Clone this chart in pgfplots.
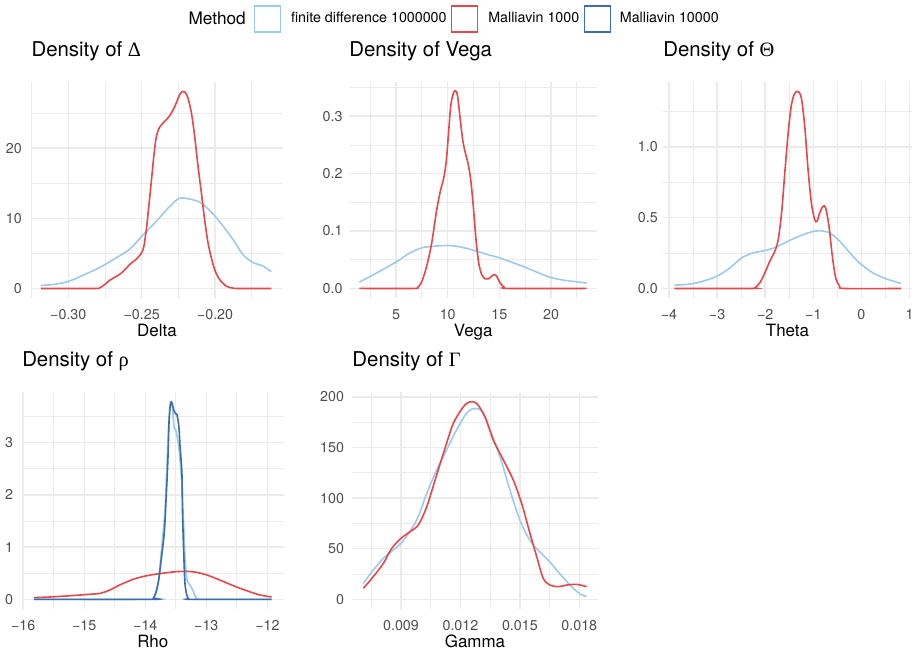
\documentclass[border=0pt]{standalone}
\usepackage{pgfplots}
\pgfplotsset{compat=1.18}
\usepackage{fontspec}
\setmainfont{TeX Gyre Heros}
\newfontfamily\greekfont{Liberation Serif}

\definecolor{fdblue}{HTML}{9CCAEA}
\definecolor{mred}{HTML}{E5474B}
\definecolor{mblue}{HTML}{3C6DAA}
\definecolor{gridgray}{HTML}{EBEBEB}
\definecolor{tickgray}{HTML}{4D4D4D}

\newcommand{\tickfont}{\fontsize{10.7}{12}\selectfont}
\newcommand{\labfont}{\fontsize{12.7}{14}\selectfont}
\newcommand{\titlefont}{\fontsize{15.3}{17}\selectfont}

\pgfplotsset{
  gg/.style={
    scale only axis,
    anchor=south west,
    scaled ticks=false,
    axis line style={draw=none},
    major tick length=0pt, minor tick length=0pt,
    tick style={draw=none},
    grid=both,
    major grid style={color=gridgray, line width=1.1pt},
    minor grid style={color=gridgray, line width=0.55pt},
    tick label style={font=\tickfont, text=tickgray, inner sep=0pt},
    xticklabel style={anchor=north, yshift=-8.25pt},
    yticklabel style={anchor=east},
    xlabel style={at={(axis description cs:0.5,0)}, anchor=base, yshift=-29pt, font=\labfont, inner sep=0pt},
    title style={at={(axis description cs:0,1)}, anchor=base west, yshift=13.2pt, font=\titlefont, inner sep=0pt},
  },
  fd/.style={color=fdblue, line width=1.2pt, smooth, tension=0.5},
  m1k/.style={color=mred, line width=1.2pt, smooth, tension=0.5},
  m10k/.style={color=mblue, line width=1.2pt, smooth, tension=0.5},
}

\begin{document}
\begin{tikzpicture}
\useasboundingbox (0pt,0pt) rectangle (687pt,-488.25pt);

% Delta
\begin{axis}[gg,
  at={(23.48pt,-223.73pt)}, width=188.55pt, height=162.45pt,
  xmin=-0.3252, xmax=-0.1539, ymin=-1.4, ymax=29.45,
  xtick={-0.30,-0.25,-0.20}, xticklabels={−0.30,−0.25,−0.20},
  minor xtick={-0.325,-0.275,-0.225,-0.175},
  ytick={0,10,20}, yticklabels={0,10,20},
  minor ytick={5,15,25},
  yticklabel style={xshift=-7pt},
  xlabel={Delta},
  title={Density of {\greekfont Δ}},
  legend columns=4,
  legend image code/.code={\draw[#1, line width=1.1pt, fill=white] (0pt,-9.75pt) rectangle (19.5pt,9.75pt);},
  legend style={at={(axis description cs:0.6257,1.2906)}, anchor=west,
    draw=none, fill=none, inner sep=0pt, outer sep=0pt,
    row sep=0pt, column sep=0pt, font=\tickfont,
    nodes={inner sep=0pt, text=black},
    /tikz/column 1/.style={column sep=0pt},
    /tikz/column 2/.style={column sep=6.2pt},
    /tikz/column 3/.style={column sep=7.2pt},
    /tikz/column 4/.style={column sep=3.2pt},
    /tikz/column 5/.style={column sep=7.5pt},
    /tikz/column 6/.style={column sep=3.2pt},
    /tikz/column 7/.style={column sep=6.7pt}},
]
\addlegendimage{empty legend}
\addlegendentry[font=\fontsize{12.9}{14}\selectfont]{Method}
\addplot[fd] coordinates {
(-0.3186,0.43) (-0.3102,0.57) (-0.3000,1.0) (-0.2898,1.9) (-0.2785,3.0)
(-0.2671,4.4) (-0.2581,5.6) (-0.2501,7.4) (-0.2399,9.6) (-0.2331,11.2)
(-0.2263,12.6) (-0.2222,12.9) (-0.2105,12.3) (-0.2000,10.3) (-0.1878,7.0)
(-0.1810,4.8) (-0.1742,3.7) (-0.1674,3.2) (-0.1617,2.4)};
\addlegendentry{finite difference 1000000}
\addplot[m1k] coordinates {
(-0.3186,0) (-0.2830,0) (-0.2785,0.1) (-0.2751,0.57) (-0.2717,1.18)
(-0.2671,1.75) (-0.2637,2.23) (-0.2603,2.94) (-0.2569,3.65) (-0.2535,4.2)
(-0.2501,5.07) (-0.2485,6.0) (-0.2467,8.6) (-0.2449,12.2) (-0.2433,15.5)
(-0.2415,19.3) (-0.2399,21.7) (-0.2377,23.0) (-0.2343,23.8) (-0.2309,24.6)
(-0.2275,25.9) (-0.2241,27.6) (-0.2222,28.06) (-0.2204,27.96) (-0.2184,27.1)
(-0.2161,25.0) (-0.2139,21.7) (-0.2116,17.4) (-0.2093,13.6) (-0.2071,9.8)
(-0.2048,6.5) (-0.2025,4.36) (-0.2003,2.7) (-0.1969,1.28) (-0.1923,0.33)
(-0.1878,0.05) (-0.1833,0) (-0.1617,0)};
\addlegendentry{Malliavin 1000}
\addlegendimage{m10k}
\addlegendentry{Malliavin 10000}
\end{axis}

% Vega
\begin{axis}[gg,
  at={(261.75pt,-223.73pt)}, width=186.23pt, height=162.45pt,
  xmin=0.45, xmax=24.48, ymin=-0.0172, ymax=0.360,
  xtick={5,10,15,20}, xticklabels={5,10,15,20},
  minor xtick={2.5,7.5,12.5,17.5,22.5},
  ytick={0,0.1,0.2,0.3}, yticklabels={0.0,0.1,0.2,0.3},
  minor ytick={0.05,0.15,0.25,0.35},
  yticklabel style={xshift=-4.7pt},
  xlabel={Vega},
  title={Density of Vega},
]
\addplot[fd] coordinates {
(1.45,0.011) (3.13,0.027) (5.0,0.046) (6.35,0.062) (7.48,0.0706) (8.61,0.0735)
(10,0.0747) (11.19,0.0724) (12.48,0.0666) (13.77,0.0596) (15,0.0533)
(16.35,0.0446) (17.48,0.037) (18.94,0.026) (20,0.019) (21.19,0.0145)
(22.48,0.0116) (23.45,0.0093)};
\addplot[m1k] coordinates {
(1.45,0) (6.8,0) (7.06,0.001) (7.48,0.011) (7.97,0.039) (8.45,0.079)
(8.94,0.137) (9.32,0.172) (9.58,0.189) (9.84,0.218) (10.06,0.265)
(10.29,0.317) (10.55,0.340) (10.74,0.344) (10.94,0.337) (11.19,0.299)
(11.45,0.259) (11.71,0.236) (11.97,0.218) (12.23,0.189) (12.48,0.143)
(12.74,0.085) (13,0.0446) (13.29,0.0243) (13.61,0.0168) (13.94,0.0168)
(14.26,0.0214) (14.52,0.0243) (14.74,0.0214) (15.06,0.0098) (15.45,0.0023)
(15.87,0) (23.45,0)};
\end{axis}

% Theta
\begin{axis}[gg,
  at={(497.25pt,-223.73pt)}, width=186.75pt, height=162.45pt,
  xmin=-4.124, xmax=1.051, ymin=-0.0695, ymax=1.4595,
  xtick={-4,-3,-2,-1,0,1}, xticklabels={−4,−3,−2,−1,0,1},
  minor xtick={-3.5,-2.5,-1.5,-0.5,0.5},
  ytick={0,0.5,1.0}, yticklabels={0.0,0.5,1.0},
  minor ytick={0.25,0.75,1.25},
  yticklabel style={xshift=-3.7pt},
  xlabel={Theta},
  title={Density of {\greekfont Θ}},
]
\addplot[fd] coordinates {
(-3.889,0.0235) (-3.633,0.028) (-3.357,0.045) (-3.0,0.087) (-2.73,0.146)
(-2.49,0.216) (-2.25,0.251) (-2.0,0.268) (-1.77,0.293) (-1.49,0.340)
(-1.21,0.380) (-0.99,0.404) (-0.87,0.408) (-0.66,0.392) (-0.45,0.333)
(-0.18,0.228) (0,0.169) (0.24,0.110) (0.516,0.068) (0.827,0.035)};
\addplot[m1k] coordinates {
(-3.889,0) (-2.3,0) (-2.216,0.005) (-2.112,0.04) (-2.008,0.11) (-1.905,0.192)
(-1.80,0.263) (-1.73,0.345) (-1.66,0.533) (-1.593,0.815) (-1.524,1.096)
(-1.455,1.296) (-1.386,1.378) (-1.317,1.39) (-1.248,1.343) (-1.178,1.143)
(-1.109,0.838) (-1.04,0.603) (-0.971,0.486) (-0.923,0.474) (-0.867,0.533)
(-0.798,0.580) (-0.743,0.568) (-0.674,0.439) (-0.605,0.228) (-0.535,0.075)
(-0.452,0.016) (-0.349,0) (0.827,0)};
\end{axis}

% Rho
\begin{axis}[gg,
  at={(16.5pt,-456.9pt)}, width=196.2pt, height=163.05pt,
  xmin=-16.02, xmax=-11.734, ymin=-0.189, ymax=3.973,
  xtick={-16,-15,-14,-13,-12}, xticklabels={−16,−15,−14,−13,−12},
  minor xtick={-15.5,-14.5,-13.5,-12.5},
  ytick={0,1,2,3}, yticklabels={0,1,2,3},
  minor ytick={0.5,1.5,2.5,3.5},
  yticklabel style={xshift=-6.5pt},
  xlabel={Rho},
  title={Density of {\greekfont ρ}},
]
\addplot[fd] coordinates {
(-15.825,0) (-13.90,0) (-13.86,0.04) (-13.81,0.18) (-13.77,0.5) (-13.73,1.01)
(-13.68,1.65) (-13.65,2.41) (-13.62,3.24) (-13.59,3.69) (-13.56,3.75)
(-13.53,3.30) (-13.50,3.24) (-13.46,2.99) (-13.43,2.67) (-13.40,2.16)
(-13.37,1.39) (-13.35,0.82) (-13.32,0.40) (-13.29,0.31) (-13.25,0.24)
(-13.21,0.147) (-13.18,0.05) (-13.15,0.006) (-13.10,0) (-11.93,0)};
\addplot[m1k] coordinates {
(-15.825,0.032) (-15.56,0.045) (-15.29,0.064) (-15.0,0.089) (-14.74,0.115)
(-14.58,0.179) (-14.42,0.274) (-14.2,0.383) (-14.0,0.447) (-13.81,0.485)
(-13.65,0.51) (-13.49,0.53) (-13.32,0.536) (-13.16,0.517) (-12.99,0.466)
(-12.78,0.37) (-12.56,0.262) (-12.34,0.166) (-12.12,0.083) (-11.93,0.045)};
\addplot[m10k] coordinates {
(-15.825,0) (-13.90,0) (-13.87,0.02) (-13.83,0.115) (-13.78,0.37) (-13.74,0.753)
(-13.69,1.264) (-13.66,1.90) (-13.63,2.67) (-13.61,3.43) (-13.585,3.77)
(-13.56,3.74) (-13.53,3.61) (-13.50,3.55) (-13.48,3.53) (-13.45,3.31)
(-13.43,2.92) (-13.40,2.41) (-13.39,1.65) (-13.37,0.88) (-13.35,0.31)
(-13.32,0.083) (-13.29,0.013) (-13.24,0) (-11.93,0)};
\end{axis}

% Gamma
\begin{axis}[gg,
  at={(264.15pt,-456.9pt)}, width=184.2pt, height=163.05pt,
  xmin=0.006537, xmax=0.018934, ymin=-9.76, ymax=204.9,
  xtick={0.009,0.012,0.015,0.018}, xticklabels={0.009,0.012,0.015,0.018},
  minor xtick={0.0075,0.0105,0.0135,0.0165},
  ytick={0,50,100,150,200}, yticklabels={0,50,100,150,200},
  minor ytick={25,75,125,175},
  yticklabel style={xshift=-6pt},
  xlabel={Gamma},
  title={Density of {\greekfont Γ}},
]
\addplot[fd] coordinates {
(0.0071,15.8) (0.0076,28.9) (0.00811,40.5) (0.00861,48.7) (0.009,55.3)
(0.00945,66.8) (0.00987,81.6) (0.0103,104.6) (0.0108,127.6) (0.0113,147.4)
(0.0118,167.1) (0.0123,183.5) (0.0127,188.5) (0.0131,185.2) (0.0135,167.1)
(0.0140,140.8) (0.0145,107.9) (0.0150,78.3) (0.0155,58.5) (0.0160,47.0)
(0.0165,37.2) (0.0170,25.7) (0.01753,14.1) (0.0180,5.9) (0.01837,2.6)};
\addplot[m1k] coordinates {
(0.0071,10.9) (0.0076,22.4) (0.00811,35.5) (0.00853,50.3) (0.009,60.2)
(0.00945,66.8) (0.00987,73.3) (0.0103,91.4) (0.01072,117.7) (0.01114,144.1)
(0.01164,173.7) (0.01215,190.1) (0.01248,195.0) (0.01282,193.4) (0.01324,180.2)
(0.01366,157.2) (0.01417,137.5) (0.01467,117.7) (0.01509,94.7) (0.01551,65.1)
(0.01585,42.1) (0.01618,20.7) (0.01652,14.1) (0.01694,12.5) (0.01736,14.1)
(0.01787,14.8) (0.01837,12.5)};
\end{axis}
\end{tikzpicture}
\end{document}
